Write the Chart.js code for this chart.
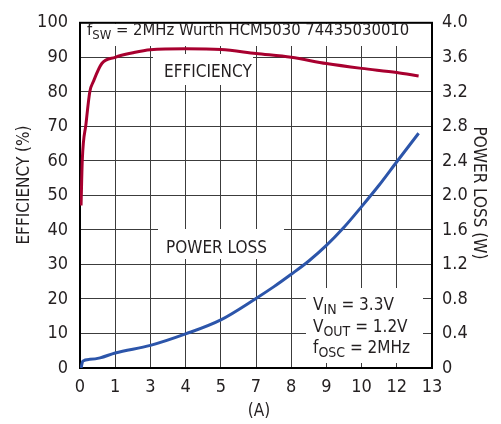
<!DOCTYPE html>
<html>
<head>
<meta charset="utf-8">
<script src="https://cdn.jsdelivr.net/npm/chart.js@4.4.1/dist/chart.umd.min.js"></script>
<style>
  body { margin: 0; background: #fff; }
  #wrap { width: 501px; height: 424px; }
</style>
</head>
<body>
<div id="wrap"><canvas id="chart" width="501" height="424"></canvas></div>
<script>
// x axis is drawn on grid positions 0..10, labelled as on the original plot
const xTickLabels = ['0', '1', '3', '4', '5', '7', '8', '9', '10', '12', '13'];

// efficiency (%), left axis
const effX = [0.03, 0.065, 0.17, 0.28, 0.38, 0.62, 1, 1.5, 2, 3, 4, 5, 6, 7, 8, 9, 9.62];
const effY = [47.1, 60.2, 70.7, 80.1, 83.0, 88.2, 90.0, 91.3, 92.2, 92.5, 92.3, 91.1, 90.0, 88.2, 86.8, 85.6, 84.6];

// power loss (W), right axis
const lossX = [0.03, 0.08, 0.28, 0.57, 1, 2, 3, 4, 5, 5.5, 6, 6.5, 7, 7.5, 8, 8.5, 9, 9.62];
const lossY = [0.0, 0.08, 0.10, 0.117, 0.174, 0.262, 0.395, 0.558, 0.806, 0.94, 1.086, 1.24, 1.42, 1.63, 1.87, 2.12, 2.39, 2.72];

const FONT = "'Liberation Sans Narrow', 'DejaVu Sans Condensed', 'Arial Narrow', sans-serif";
const TEXT = '#231f20';
const RED = '#a8002f';
const BLUE = '#2c55aa';
const GRID = '#3c3c3c';

function richText(ctx, parts, x, y, size) {
    parts.forEach(p => {
        const sub = p[1];
        ctx.font = (sub ? Math.round(size * 0.8) : size) + 'px ' + FONT;
        ctx.fillText(p[0], x, y + (sub ? 4 : 0));
        x += ctx.measureText(p[0]).width;
    });
}

const decorations = {
    id: 'decorations',
    beforeDatasetsDraw(chart) {
        const ctx = chart.ctx;
        const a = chart.chartArea;
        ctx.save();
        ctx.fillStyle = '#fff';
        ctx.fillRect(a.left + 1, a.top + 1, a.right - a.left - 2, 45 - a.top);
        ctx.fillRect(153, 54, 100, 31);
        ctx.fillRect(158, 229, 126, 30);
        ctx.fillRect(306, 288, 117, 75);
        ctx.strokeStyle = '#000';
        ctx.lineWidth = 2;
        ctx.strokeRect(a.left, a.top, a.right - a.left, a.bottom - a.top);

        ctx.fillStyle = TEXT;
        ctx.textBaseline = 'alphabetic';
        ctx.textAlign = 'left';
        richText(ctx, [['f', false], ['SW', true], [' = 2MHz Wurth HCM5030 74435030010', false]], 87, 35, 16.5);
        richText(ctx, [['EFFICIENCY', false]], 164, 77, 17);
        richText(ctx, [['POWER LOSS', false]], 166, 253, 17);
        richText(ctx, [['V', false], ['IN', true], [' = 3.3V', false]], 313, 310, 17);
        richText(ctx, [['V', false], ['OUT', true], [' = 1.2V', false]], 313, 332, 17);
        richText(ctx, [['f', false], ['OSC', true], [' = 2MHz', false]], 313, 353, 17);
        ctx.restore();
    },
    afterDraw(chart) {
        const ctx = chart.ctx;
        ctx.save();
        ctx.fillStyle = TEXT;
        ctx.font = '17px ' + FONT;
        ctx.textAlign = 'center';
        ctx.textBaseline = 'middle';
        ctx.fillText('(A)', 259, 412);
        ctx.translate(25, 185);
        ctx.rotate(-Math.PI / 2);
        ctx.fillText('EFFICIENCY (%)', 0, 0);
        ctx.restore();
        ctx.save();
        ctx.fillStyle = TEXT;
        ctx.font = '17px ' + FONT;
        ctx.textAlign = 'center';
        ctx.textBaseline = 'middle';
        ctx.translate(478, 193);
        ctx.rotate(Math.PI / 2);
        ctx.fillText('POWER LOSS (W)', 0, 0);
        ctx.restore();
    }
};

const tickFont = {family: FONT, size: 18};

new Chart('chart', {
    type: 'line',
    data: {
        datasets: [{
            data: effX.map((x, i) => ({x: x, y: effY[i]})),
            yAxisID: 'y',
            borderColor: RED,
            borderWidth: 3,
            pointRadius: 0,
            cubicInterpolationMode: 'monotone',
            fill: false
        }, {
            data: lossX.map((x, i) => ({x: x, y: lossY[i]})),
            yAxisID: 'y1',
            borderColor: BLUE,
            borderWidth: 3,
            pointRadius: 0,
            cubicInterpolationMode: 'monotone',
            fill: false
        }]
    },
    options: {
        responsive: false,
        animation: false,
        layout: {padding: {top: 17, left: 0, right: 0, bottom: 0}},
        plugins: {legend: {display: false}, tooltip: {enabled: false}},
        scales: {
            x: {
                type: 'linear',
                min: 0,
                max: 10,
                afterFit: (s) => { s.height = 56; },
                ticks: {
                    stepSize: 1,
                    autoSkip: false,
                    maxRotation: 0,
                    padding: 9,
                    font: tickFont,
                    color: TEXT,
                    callback: (v) => xTickLabels[v]
                },
                grid: {color: GRID, lineWidth: 1, drawTicks: false},
                border: {display: false}
            },
            y: {
                position: 'left',
                min: 0,
                max: 100,
                afterFit: (s) => { s.width = 80; },
                ticks: {stepSize: 10, padding: 12, font: tickFont, color: TEXT},
                grid: {color: GRID, lineWidth: 1, drawTicks: false},
                border: {display: false}
            },
            y1: {
                position: 'right',
                min: 0,
                max: 4,
                afterFit: (s) => { s.width = 69; },
                ticks: {
                    stepSize: 0.4,
                    padding: 10,
                    font: tickFont,
                    color: TEXT,
                    callback: (v) => v === 0 ? '0' : v.toFixed(1)
                },
                grid: {display: false, drawTicks: false},
                border: {display: false}
            }
        }
    },
    plugins: [decorations]
});
</script>
</body>
</html>
